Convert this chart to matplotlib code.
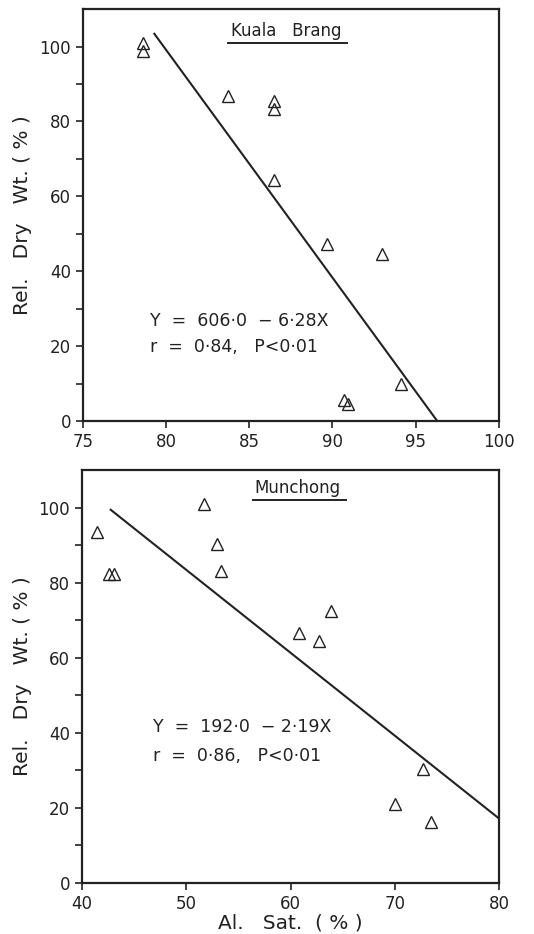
import matplotlib
matplotlib.use("Agg")
import matplotlib.pyplot as plt
from matplotlib.ticker import MultipleLocator

# Kuala Brang (top panel)
kb_x = [78.6, 78.6, 83.7, 86.5, 86.5, 86.5, 89.7, 93.0, 94.1, 90.7, 90.95]
kb_y = [101.0, 98.8, 86.8, 85.4, 83.4, 64.3, 47.3, 44.7, 9.8, 5.6, 4.5]
kb_line_x = [79.3, 96.3]
kb_line_y = [103.4, 0.0]

# Munchong (bottom panel)
mu_x = [41.4, 42.6, 43.1, 51.7, 52.9, 53.3, 60.8, 62.7, 63.9, 72.7, 70.0, 73.5]
mu_y = [93.5, 82.4, 82.2, 100.9, 90.3, 83.2, 66.6, 64.4, 72.3, 30.4, 21.1, 16.2]
mu_line_x = [42.75, 80.0]
mu_line_y = [99.4, 17.1]

plt.rcParams['font.family'] = ['DejaVu Sans']
INK = '#222222'

fig = plt.figure(figsize=(5.34, 9.34), dpi=100)
ax1 = fig.add_axes([0.155, 0.5493, 0.779, 0.441])
ax2 = fig.add_axes([0.1536, 0.0549, 0.781, 0.4419])


def style(ax, xlim, xstep):
    ax.set_xlim(*xlim)
    ax.set_ylim(0, 110)
    ax.xaxis.set_major_locator(MultipleLocator(xstep))
    ax.set_yticks([0, 20, 40, 60, 80, 100])
    ax.set_yticks([10, 30, 50, 70, 90], minor=True)
    ax.tick_params(axis='both', which='both', direction='out', length=5,
                   width=1.2, labelsize=12, colors=INK)
    for s in ax.spines.values():
        s.set_linewidth(1.6)
        s.set_color(INK)
    ax.set_ylabel("Rel.   Dry   Wt. ( % )", fontsize=14.5, color=INK, labelpad=5)


style(ax1, (75, 100), 5)
ax1.plot(kb_x, kb_y, linestyle='none', marker='^', markersize=8,
         markerfacecolor='none', markeredgecolor=INK, markeredgewidth=1.0)
ax1.plot(kb_line_x, kb_line_y, color=INK, linewidth=1.5)
ax1.text(0.49, 0.947, "Kuala   Brang", transform=ax1.transAxes, ha='center',
         va='center', fontsize=12, color=INK)
ax1.plot([0.348, 0.634], [0.918, 0.918], transform=ax1.transAxes,
         color=INK, linewidth=1.4)
ax1.text(0.161, 0.243, "Y  =  606·0  − 6·28X", transform=ax1.transAxes,
         ha='left', va='center', fontsize=12.5, color=INK)
ax1.text(0.161, 0.180, "r  =  0·84,   P<0·01", transform=ax1.transAxes,
         ha='left', va='center', fontsize=12.5, color=INK)

style(ax2, (40, 80), 10)
ax2.plot(mu_x, mu_y, linestyle='none', marker='^', markersize=8,
         markerfacecolor='none', markeredgecolor=INK, markeredgewidth=1.0)
ax2.plot(mu_line_x, mu_line_y, color=INK, linewidth=1.5)
ax2.text(0.517, 0.956, "Munchong", transform=ax2.transAxes, ha='center',
         va='center', fontsize=12, color=INK)
ax2.plot([0.411, 0.632], [0.927, 0.927], transform=ax2.transAxes,
         color=INK, linewidth=1.4)
ax2.text(0.170, 0.378, "Y  =  192·0  − 2·19X", transform=ax2.transAxes,
         ha='left', va='center', fontsize=12.5, color=INK)
ax2.text(0.170, 0.307, "r  =  0·86,   P<0·01", transform=ax2.transAxes,
         ha='left', va='center', fontsize=12.5, color=INK)
ax2.set_xlabel("Al.   Sat.  ( % )", fontsize=14.5, color=INK, labelpad=1)

fig.savefig("out.png", dpi=100)
